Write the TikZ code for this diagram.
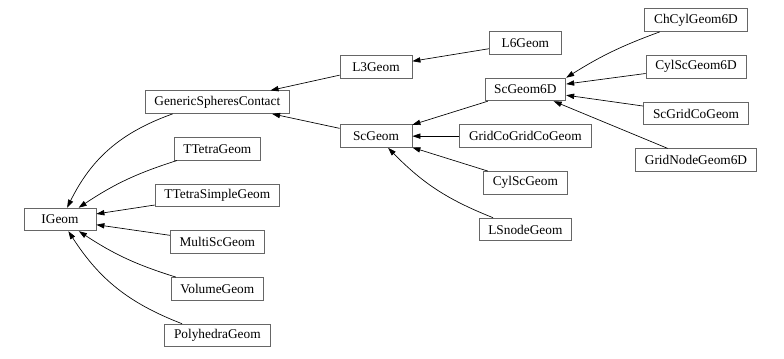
\documentclass[tikz,border=0pt]{standalone}
\usepackage{fontspec}
\setmainfont{Liberation Serif}
\usepackage{xcolor}
\usepackage{tikz}
\usetikzlibrary{arrows.meta,positioning}

\begin{document}
\begin{tikzpicture}[->, >={Triangle[length=6pt,width=4pt]}, line width=0.5pt, node distance=35pt]

    \tikzstyle{classbox}=[draw=black!60, line width=0.6pt, fill=white, text=black, minimum width=54pt, minimum height=17pt, inner xsep=7pt, inner ysep=0pt, font=\fontsize{10}{12}\selectfont]

    \useasboundingbox (-45pt,-103.9pt) rectangle (543pt,164.6pt);

    \node[classbox] (IGeom) {IGeom};
    \node[classbox] (TTetraSimpleGeom) [right of=IGeom, node distance=118pt, yshift=18pt] {TTetraSimpleGeom};
    \node[classbox] (TTetraGeom) [above of=TTetraSimpleGeom] {TTetraGeom};
    \node[classbox] (GenericSpheresContact) [above of=TTetraGeom] {GenericSpheresContact};
    \node[classbox] (MultiScGeom) [below of=TTetraSimpleGeom] {MultiScGeom};
    \node[classbox] (VolumeGeom) [below of=MultiScGeom] {VolumeGeom};
    \node[classbox] (PolyhedraGeom) [below of=VolumeGeom] {PolyhedraGeom};

    \node[classbox] (ScGeom) [right of=GenericSpheresContact, node distance=119pt, yshift=-25.5pt] {ScGeom};
    \node[classbox] (L3Geom) [above of=ScGeom, node distance=51.75pt] {L3Geom};

    \node[classbox] (GridCoGridCoGeom) [right of=ScGeom, node distance=112pt] {GridCoGridCoGeom};
    \node[classbox] (ScGeom6D) [above of=GridCoGridCoGeom] {ScGeom6D};
    \node[classbox] (L6Geom) [above of=ScGeom6D] {L6Geom};
    \node[classbox] (CylScGeom) [below of=GridCoGridCoGeom] {CylScGeom};
    \node[classbox] (LSnodeGeom) [below of=CylScGeom] {LSnodeGeom};

    \node[classbox] (CylScGeom6D) [right of=ScGeom6D, node distance=128pt, yshift=17pt] {CylScGeom6D};
    \node[classbox] (ChCylGeom6D) [above of=CylScGeom6D] {ChCylGeom6D};
    \node[classbox] (ScGridCoGeom) [below of=CylScGeom6D] {ScGridCoGeom};
    \node[classbox] (GridNodeGeom6D) [below of=ScGridCoGeom] {GridNodeGeom6D};

    \path (GenericSpheresContact) edge [bend right=22] (IGeom);
    \path (TTetraGeom) edge [bend right=8] (IGeom);
    \path (TTetraSimpleGeom) edge (IGeom);
    \path (MultiScGeom) edge (IGeom);
    \path (VolumeGeom) edge [bend left=8] (IGeom);
    \path (PolyhedraGeom) edge [bend left=18] (IGeom);
    \path (L3Geom) edge (GenericSpheresContact);
    \path (ScGeom) edge (GenericSpheresContact);
    \path (L6Geom) edge (L3Geom);
    \path (ScGeom6D) edge (ScGeom);
    \path (GridCoGridCoGeom) edge (ScGeom);
    \path (CylScGeom) edge (ScGeom);
    \path (LSnodeGeom) edge [bend left=12] (ScGeom);
    \path (ChCylGeom6D) edge [bend right=6] (ScGeom6D.north east);
    \path (CylScGeom6D) edge (ScGeom6D);
    \path (ScGridCoGeom) edge (ScGeom6D);
    \path (GridNodeGeom6D) edge (ScGeom6D);

\end{tikzpicture}
\end{document}
